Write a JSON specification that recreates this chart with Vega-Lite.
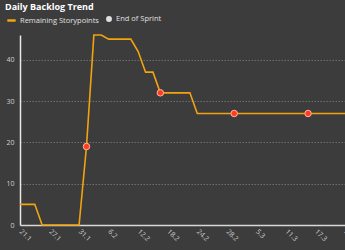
{
  "$schema": "https://vega.github.io/schema/vega-lite/v6.json",
  "width": 325,
  "height": 190,
  "autosize": {"type": "none"},
  "padding": {"left": 20, "top": 35, "right": 0, "bottom": 25},
  "background": "#3c3c3c",
  "title": {"text": "Daily Backlog Trend", "anchor": "start", "frame": "group", "fontSize": 9, "fontWeight": "bold", "color": "#ffffff", "font": "Open Sans", "dx": -15, "offset": 3},
  "data": {"values": [
    {"i": 0, "day": "21.1", "value": 5, "sprintEnd": false},
    {"i": 1, "day": "22.1", "value": 5, "sprintEnd": false},
    {"i": 2, "day": "23.1", "value": 5, "sprintEnd": false},
    {"i": 3, "day": "24.1", "value": 0, "sprintEnd": false},
    {"i": 4, "day": "27.1", "value": 0, "sprintEnd": false},
    {"i": 5, "day": "28.1", "value": 0, "sprintEnd": false},
    {"i": 6, "day": "29.1", "value": 0, "sprintEnd": false},
    {"i": 7, "day": "30.1", "value": 0, "sprintEnd": false},
    {"i": 8, "day": "31.1", "value": 0, "sprintEnd": false},
    {"i": 9, "day": "3.2", "value": 19, "sprintEnd": true},
    {"i": 10, "day": "4.2", "value": 46, "sprintEnd": false},
    {"i": 11, "day": "5.2", "value": 46, "sprintEnd": false},
    {"i": 12, "day": "6.2", "value": 45, "sprintEnd": false},
    {"i": 13, "day": "7.2", "value": 45, "sprintEnd": false},
    {"i": 14, "day": "10.2", "value": 45, "sprintEnd": false},
    {"i": 15, "day": "11.2", "value": 45, "sprintEnd": false},
    {"i": 16, "day": "12.2", "value": 42, "sprintEnd": false},
    {"i": 17, "day": "13.2", "value": 37, "sprintEnd": false},
    {"i": 18, "day": "14.2", "value": 37, "sprintEnd": false},
    {"i": 19, "day": "17.2", "value": 32, "sprintEnd": true},
    {"i": 20, "day": "18.2", "value": 32, "sprintEnd": false},
    {"i": 21, "day": "19.2", "value": 32, "sprintEnd": false},
    {"i": 22, "day": "20.2", "value": 32, "sprintEnd": false},
    {"i": 23, "day": "21.2", "value": 32, "sprintEnd": false},
    {"i": 24, "day": "24.2", "value": 27, "sprintEnd": false},
    {"i": 25, "day": "25.2", "value": 27, "sprintEnd": false},
    {"i": 26, "day": "26.2", "value": 27, "sprintEnd": false},
    {"i": 27, "day": "27.2", "value": 27, "sprintEnd": false},
    {"i": 28, "day": "28.2", "value": 27, "sprintEnd": false},
    {"i": 29, "day": "1.3", "value": 27, "sprintEnd": true},
    {"i": 30, "day": "3.3", "value": 27, "sprintEnd": false},
    {"i": 31, "day": "4.3", "value": 27, "sprintEnd": false},
    {"i": 32, "day": "5.3", "value": 27, "sprintEnd": false},
    {"i": 33, "day": "6.3", "value": 27, "sprintEnd": false},
    {"i": 34, "day": "7.3", "value": 27, "sprintEnd": false},
    {"i": 35, "day": "10.3", "value": 27, "sprintEnd": false},
    {"i": 36, "day": "11.3", "value": 27, "sprintEnd": false},
    {"i": 37, "day": "12.3", "value": 27, "sprintEnd": false},
    {"i": 38, "day": "13.3", "value": 27, "sprintEnd": false},
    {"i": 39, "day": "14.3", "value": 27, "sprintEnd": true},
    {"i": 40, "day": "17.3", "value": 27, "sprintEnd": false},
    {"i": 41, "day": "18.3", "value": 27, "sprintEnd": false},
    {"i": 42, "day": "19.3", "value": 27, "sprintEnd": false},
    {"i": 43, "day": "20.3", "value": 27, "sprintEnd": false},
    {"i": 44, "day": "21.3", "value": 27, "sprintEnd": false}
  ]},
  "encoding": {
    "x": {
      "field": "day", "type": "ordinal", "sort": null,
      "scale": {"type": "point", "padding": 0},
      "axis": {
        "title": null,
        "values": ["21.1", "27.1", "31.1", "6.2", "12.2", "18.2", "24.2", "28.2", "5.3", "11.3", "17.3", "21.3"],
        "labelAngle": 45, "labelAlign": "left", "labelBaseline": "middle", "labelPadding": 5,
        "labelColor": "#cfcfcf", "labelFontSize": 7, "labelFont": "Open Sans",
        "ticks": false, "domainColor": "#d8d8d8", "domainWidth": 1.5, "grid": false
      }
    },
    "y": {
      "field": "value", "type": "quantitative",
      "scale": {"domain": [0, 46], "nice": false},
      "axis": {
        "title": null, "values": [0, 10, 20, 30, 40],
        "labelColor": "#cfcfcf", "labelFontSize": 7, "labelFont": "Open Sans", "labelPadding": 6,
        "ticks": false, "domainColor": "#e8e8e8", "domainWidth": 1.5,
        "grid": true, "gridColor": "#6e6e6e", "gridDash": [1.5, 1.5], "gridWidth": 1
      }
    }
  },
  "layer": [
    {
      "mark": {"type": "line", "strokeWidth": 1.6, "interpolate": "linear"},
      "encoding": {
        "color": {
          "datum": "Remaining Storypoints",
          "scale": {"range": ["#f2a30f"]},
          "legend": {
            "orient": "none", "legendX": -14, "legendY": -20, "title": null, "direction": "horizontal",
            "symbolType": "stroke", "symbolStrokeWidth": 2.5, "symbolSize": 70,
            "labelColor": "#e0e0e0", "labelFontSize": 7.5, "labelFont": "Open Sans", "labelOffset": 3
          }
        }
      }
    },
    {
      "transform": [{"filter": "datum.sprintEnd"}],
      "mark": {"type": "point", "filled": true, "color": "#ff3d1e", "stroke": "#ffb4a4", "strokeWidth": 1, "size": 42, "opacity": 1}
    },
    {
      "transform": [{"filter": "false"}],
      "mark": {"type": "point", "filled": true, "color": "#e0e0e0", "size": 35, "opacity": 1},
      "encoding": {
        "shape": {
          "datum": "End of Sprint",
          "scale": {"range": ["circle"]},
          "legend": {
            "orient": "none", "legendX": 85, "legendY": -20, "title": null, "direction": "horizontal",
            "symbolSize": 35,
            "labelColor": "#e0e0e0", "labelFontSize": 7.5, "labelFont": "Open Sans", "labelOffset": 3
          }
        }
      }
    }
  ],
  "config": {"view": {"stroke": null}}
}
